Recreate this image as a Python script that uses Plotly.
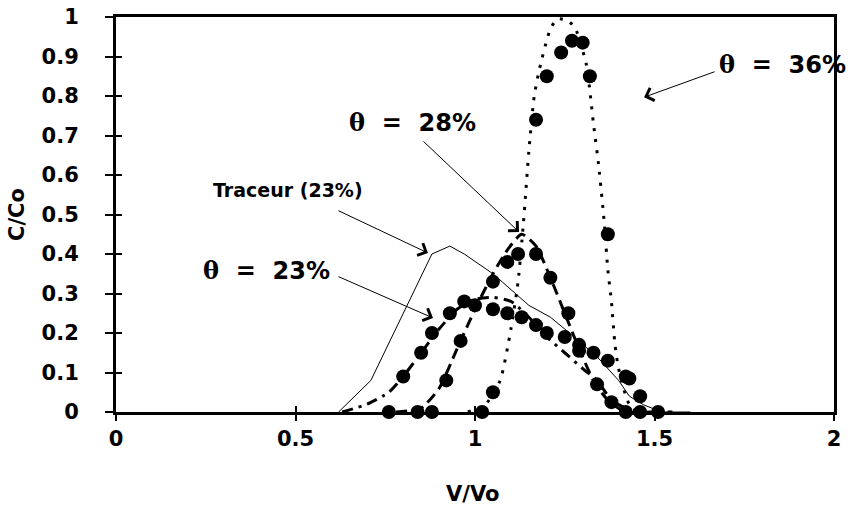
import plotly.graph_objects as go

# ---------------- data ----------------
# measured points, theta = 23 %
theta23_x = [0.80, 0.85, 0.88, 0.93, 0.97, 1.00, 1.05, 1.09, 1.13, 1.17, 1.20, 1.25, 1.29, 1.33, 1.37, 1.43, 1.46, 1.51]
theta23_y = [0.09, 0.15, 0.20, 0.25, 0.28, 0.27, 0.26, 0.25, 0.24, 0.22, 0.20, 0.19, 0.17, 0.15, 0.13, 0.085, 0.04, 0.00]
# measured points, theta = 28 %
theta28_x = [0.84, 0.88, 0.92, 0.96, 1.05, 1.09, 1.12, 1.17, 1.21, 1.26, 1.29, 1.34, 1.38, 1.42]
theta28_y = [0.00, 0.00, 0.08, 0.18, 0.33, 0.38, 0.40, 0.40, 0.34, 0.25, 0.155, 0.07, 0.025, 0.00]
# measured points, theta = 36 %
theta36_x = [0.76, 1.02, 1.05, 1.17, 1.20, 1.24, 1.27, 1.30, 1.32, 1.37, 1.42, 1.46]
theta36_y = [0.00, 0.00, 0.05, 0.74, 0.85, 0.91, 0.94, 0.935, 0.85, 0.45, 0.09, 0.00]

# tracer curve (thin solid)
tracer_x = [0.62, 0.71, 0.88, 0.93, 0.97, 1.05, 1.15, 1.21, 1.25, 1.34, 1.40, 1.43, 1.47, 1.52, 1.60]
tracer_y = [0.00, 0.08, 0.40, 0.42, 0.40, 0.35, 0.27, 0.24, 0.21, 0.14, 0.08, 0.04, 0.018, 0.00, 0.00]
# model curve theta = 23 % (dash-dot)
curve23_x = [0.63, 0.70, 0.76, 0.80, 0.85, 0.90, 0.95, 1.00, 1.05, 1.10, 1.15, 1.20, 1.25, 1.30, 1.34, 1.38, 1.42, 1.47, 1.55]
curve23_y = [0.00, 0.02, 0.05, 0.09, 0.15, 0.21, 0.26, 0.285, 0.29, 0.28, 0.24, 0.19, 0.15, 0.11, 0.08, 0.03, 0.01, 0.00, 0.00]
# model curve theta = 28 % (dashed)
curve28_x = [0.78, 0.85, 0.90, 0.95, 1.00, 1.05, 1.09, 1.13, 1.17, 1.21, 1.25, 1.29, 1.33, 1.37, 1.42, 1.50]
curve28_y = [0.00, 0.01, 0.06, 0.16, 0.26, 0.35, 0.41, 0.45, 0.42, 0.34, 0.25, 0.16, 0.08, 0.03, 0.00, 0.00]
# model curve theta = 36 % (dotted)
curve36_x = [0.98, 1.03, 1.07, 1.10, 1.12, 1.135, 1.15, 1.165, 1.18, 1.21, 1.23, 1.26, 1.28, 1.31, 1.33, 1.345, 1.36, 1.37, 1.38, 1.39, 1.40, 1.43, 1.47]
curve36_y = [0.00, 0.02, 0.08, 0.21, 0.33, 0.48, 0.66, 0.80, 0.87, 0.97, 0.995, 0.99, 0.97, 0.88, 0.73, 0.62, 0.48, 0.36, 0.28, 0.17, 0.11, 0.02, 0.00]

x_ticks = [0, 0.5, 1, 1.5, 2]
x_tick_labels = ["0", "0.5", "1", "1.5", "2"]
y_ticks = [0, 0.1, 0.2, 0.3, 0.4, 0.5, 0.6, 0.7, 0.8, 0.9, 1]
y_tick_labels = ["0", "0.1", "0.2", "0.3", "0.4", "0.5", "0.6", "0.7", "0.8", "0.9", "1"]

x_title = "V/Vo"
y_title = "C/Co"

# ---------------- figure ----------------
FONT = "DejaVu Sans, Arial, sans-serif"
TH = "<span style=\"font-family:'DejaVu Serif', 'Liberation Serif', serif\">θ</span>"

FIG_W, FIG_H = 848, 512
PL, PT = 116, 17         # plot-area offset inside the figure
PW, PH = 718, 395        # plot-area size

fig = go.Figure()

line_common = dict(mode="lines", showlegend=False, hoverinfo="skip", cliponaxis=False)
fig.add_trace(go.Scatter(x=tracer_x, y=tracer_y, line=dict(color="black", width=1), **line_common))
fig.add_trace(go.Scatter(x=curve23_x, y=curve23_y,
                         line=dict(color="black", width=3, dash="11px,6px,3px,6px", shape="spline", smoothing=0.6),
                         **line_common))
fig.add_trace(go.Scatter(x=curve28_x, y=curve28_y,
                         line=dict(color="black", width=3, dash="11px,6px", shape="spline", smoothing=0.6),
                         **line_common))
fig.add_trace(go.Scatter(x=curve36_x, y=curve36_y,
                         line=dict(color="black", width=3, dash="3px,8px", shape="spline", smoothing=0.6),
                         **line_common))

mk = dict(mode="markers", marker=dict(color="black", size=14), showlegend=False, cliponaxis=False)
fig.add_trace(go.Scatter(x=theta23_x, y=theta23_y, **mk))
fig.add_trace(go.Scatter(x=theta28_x, y=theta28_y, **mk))
fig.add_trace(go.Scatter(x=theta36_x, y=theta36_y, **mk))

# dummy trace for overlay axes (inside half of crossing ticks)
fig.add_trace(go.Scatter(x=[None], y=[None], xaxis="x2", yaxis="y2", showlegend=False, hoverinfo="skip"))

tickfont = dict(family=FONT, size=21, color="black", weight="bold")

fig.update_layout(
    width=FIG_W, height=FIG_H,
    margin=dict(l=PL, r=FIG_W - PL - PW, t=PT, b=FIG_H - PT - PH, autoexpand=False),
    paper_bgcolor="white", plot_bgcolor="white",
    showlegend=False,
    xaxis=dict(range=[0, 2], tickvals=x_ticks, ticktext=x_tick_labels,
               showgrid=False, zeroline=False, showline=True, linecolor="black", linewidth=3,
               mirror=True, ticks="outside", ticklen=6, tickwidth=2, tickcolor="black",
               tickfont=tickfont, ticklabelstandoff=0, automargin=False, ticklabeloverflow="allow"),
    yaxis=dict(range=[0, 1], tickvals=y_ticks, ticktext=y_tick_labels,
               showgrid=False, zeroline=False, showline=True, linecolor="black", linewidth=3,
               mirror=True, ticks="outside", ticklen=8, tickwidth=2, tickcolor="black",
               tickfont=tickfont, ticklabelstandoff=22, automargin=False, ticklabeloverflow="allow"),
    xaxis2=dict(range=[0, 2], overlaying="x", anchor="y2", tickvals=x_ticks, showticklabels=False,
                showgrid=False, zeroline=False, showline=False, ticks="inside", ticklen=6,
                tickwidth=2, tickcolor="black"),
    yaxis2=dict(range=[0, 1], overlaying="y", anchor="x2", tickvals=y_ticks, showticklabels=False,
                showgrid=False, zeroline=False, showline=False, ticks="inside", ticklen=6,
                tickwidth=2, tickcolor="black"),
)

titlefont = dict(family=FONT, size=21, color="black", weight="bold")

# axis titles (positions given in window pixels, converted to paper fractions)
fig.add_annotation(text=y_title, xref="paper", yref="paper", x=(17 - PL) / PW, y=(412 - 215) / PH,
                   textangle=-90, showarrow=False, font=titlefont, xanchor="center", yanchor="middle")
fig.add_annotation(text=x_title, xref="paper", yref="paper", x=(472 - PL) / PW, y=(412 - 494) / PH,
                   showarrow=False, font=titlefont, xanchor="center", yanchor="middle")

# labels
labfont = dict(family=FONT, size=24, color="black", weight="bold")
labels = [
    (TH + "  =  36%", 1.857, 0.881, labfont),
    (TH + "  =  28%", 0.8245, 0.734, labfont),
    ("Traceur (23%)", 0.479, 0.562, dict(family=FONT, size=19, color="black", weight="bold")),
    (TH + "  =  23%", 0.418, 0.359, labfont),
]
for txt, lx, ly, f in labels:
    fig.add_annotation(text=txt, x=lx, y=ly, xref="x", yref="y", showarrow=False,
                       font=f, xanchor="center", yanchor="middle")

# arrows (head in data coords, tail offset in pixels)
arrows = [
    (1.471, 0.797, 72, -26),
    (1.1226, 0.4557, -97, -92),
    (0.869, 0.4025, -91, -43),
    (0.883, 0.238, -96, -42),
]
for hx, hy, ax, ay in arrows:
    fig.add_annotation(text="", x=hx, y=hy, xref="x", yref="y", ax=ax, ay=ay,
                       showarrow=True, arrowhead=4, arrowsize=2.6, arrowwidth=1, arrowcolor="black")

# remove the default 8px page margin so the figure fills the window exactly
fig.write_html("out.html", config={"displayModeBar": False},
               post_script="document.body.style.margin='0';document.body.style.overflow='hidden';")
